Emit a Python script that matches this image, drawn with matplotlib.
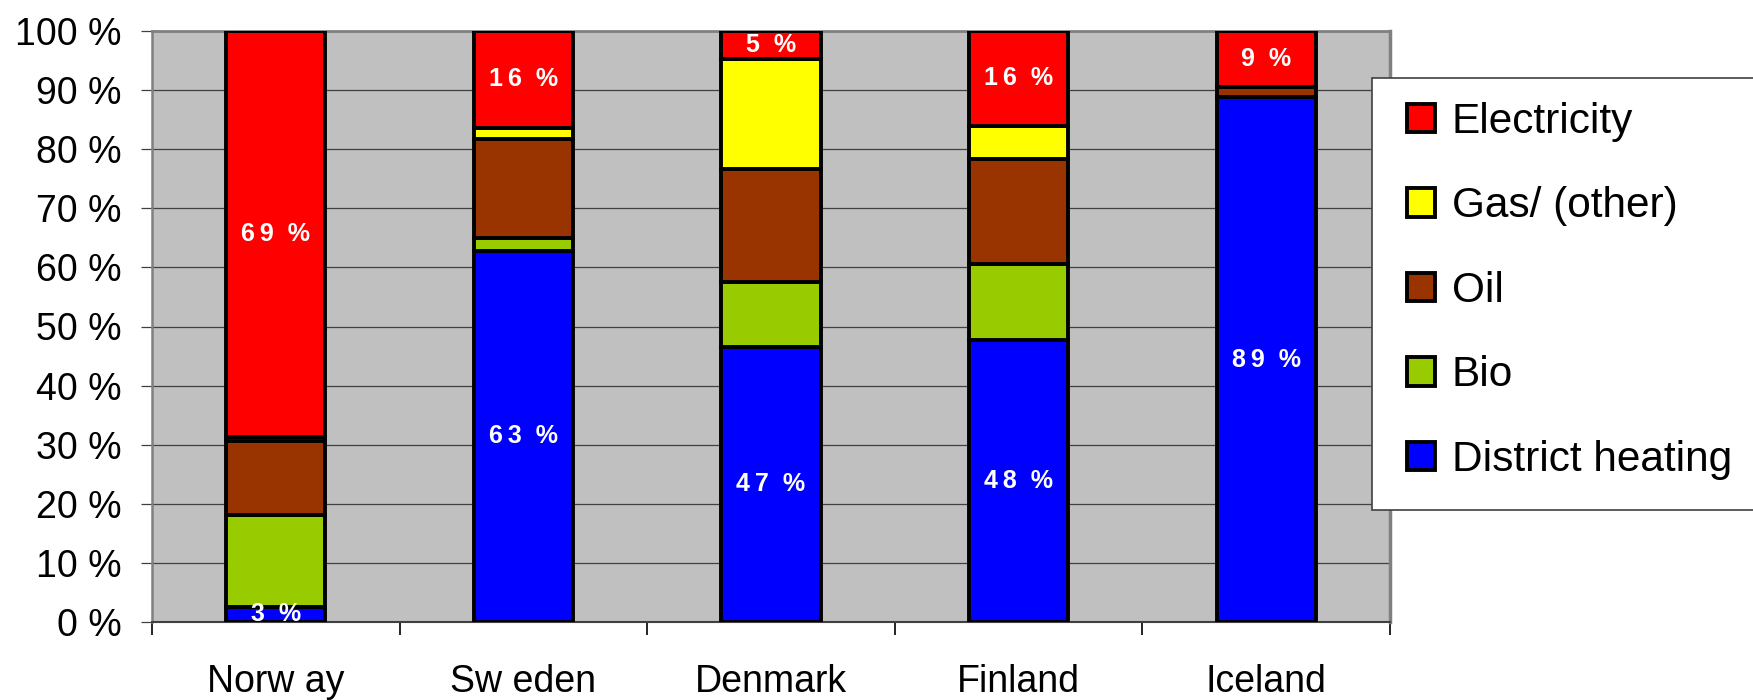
import matplotlib
matplotlib.use("Agg")
from matplotlib import pyplot as plt
from matplotlib.patches import Rectangle
import numpy as np

plt.rcParams['font.family'] = ['Liberation Sans', 'DejaVu Sans']

countries = ['Norw ay', 'Sw eden', 'Denmark', 'Finland', 'Iceland']
district_heating = [2.6, 62.8, 46.6, 47.8, 88.8]
bio = [15.5, 2.2, 11.0, 12.7, 0.0]
oil = [12.5, 16.8, 19.0, 17.9, 1.8]
gas = [0.7, 1.8, 18.6, 5.6, 0.0]
electricity = [68.7, 16.4, 4.8, 16.0, 9.4]

series = [
    ('District heating', district_heating, '#0000FF'),
    ('Bio', bio, '#99CC00'),
    ('Oil', oil, '#993300'),
    ('Gas/ (other)', gas, '#FFFF00'),
    ('Electricity', electricity, '#FF0000'),
]
labelled = ['District heating', 'Electricity']

W, H = 1753, 700
fig = plt.figure(figsize=(W / 100, H / 100), dpi=100)
ax = fig.add_axes([152 / W, 1 - 622 / H, (1390 - 152) / W, (622 - 31) / H])
ax.set_facecolor('#C0C0C0')

x = np.arange(len(countries))
width = 0.4
bottom = np.zeros(len(countries))
handles = {}
for name, vals, col in series:
    vals = np.array(vals)
    bars = ax.bar(x, vals, width, bottom=bottom, color=col, edgecolor='black',
                  linewidth=2.8, label=name, zorder=3)
    handles[name] = bars
    if name in labelled:
        for xi, b, v in zip(x, bottom, vals):
            if v > 0:
                txt = '\u2009'.join(str(round(v))) + '  %'
                ax.text(xi, b + v / 2, txt, ha='center', va='center',
                        color='white', fontsize=18, fontweight='bold',
                        zorder=4, clip_on=True)
    bottom = bottom + vals

ax.set_xlim(-0.5, len(countries) - 0.5)
ax.set_ylim(0, 100)

ax.set_yticks(np.arange(0, 101, 10))
ax.set_yticklabels([f'{v} %' for v in range(0, 101, 10)])
ax.yaxis.grid(True, color='#404040', linewidth=0.9, zorder=1)
ax.set_axisbelow(True)
ax.tick_params(axis='y', direction='out', length=8, width=0.9, color='#404040',
               labelsize=27, pad=14)

ax.set_xticks(x)
ax.set_xticklabels(countries)
ax.set_xticks(np.arange(-0.5, len(countries), 1), minor=True)
ax.tick_params(axis='x', which='major', length=0, labelsize=27, pad=30)
ax.tick_params(axis='x', which='minor', direction='out', length=9, width=1.2,
               color='black')

for side in ['top', 'right', 'left']:
    ax.spines[side].set_color('#808080')
ax.spines['top'].set_linewidth(2.0)
ax.spines['right'].set_linewidth(2.5)
ax.spines['left'].set_linewidth(1.8)
ax.spines['bottom'].set_color('#404040')
ax.spines['bottom'].set_linewidth(1.5)

# legend box runs off the right edge of the figure
frame = Rectangle((1372 / W, 1 - 510 / H), (W + 20 - 1372) / W, (510 - 78) / H,
                  transform=fig.transFigure, facecolor='white',
                  edgecolor='#404040', linewidth=1.2, zorder=5)
fig.patches.append(frame)

order = ['Electricity', 'Gas/ (other)', 'Oil', 'Bio', 'District heating']
leg = fig.legend([handles[n] for n in order], order, loc='upper left',
                 bbox_to_anchor=(1407 / W, 1 - 102 / H), fontsize=30.5,
                 frameon=False, handlelength=0.66, handleheight=0.66,
                 handletextpad=0.4, labelspacing=1.05, borderpad=0,
                 borderaxespad=0)
leg.set_zorder(6)

fig.savefig('out.png', dpi=100)
